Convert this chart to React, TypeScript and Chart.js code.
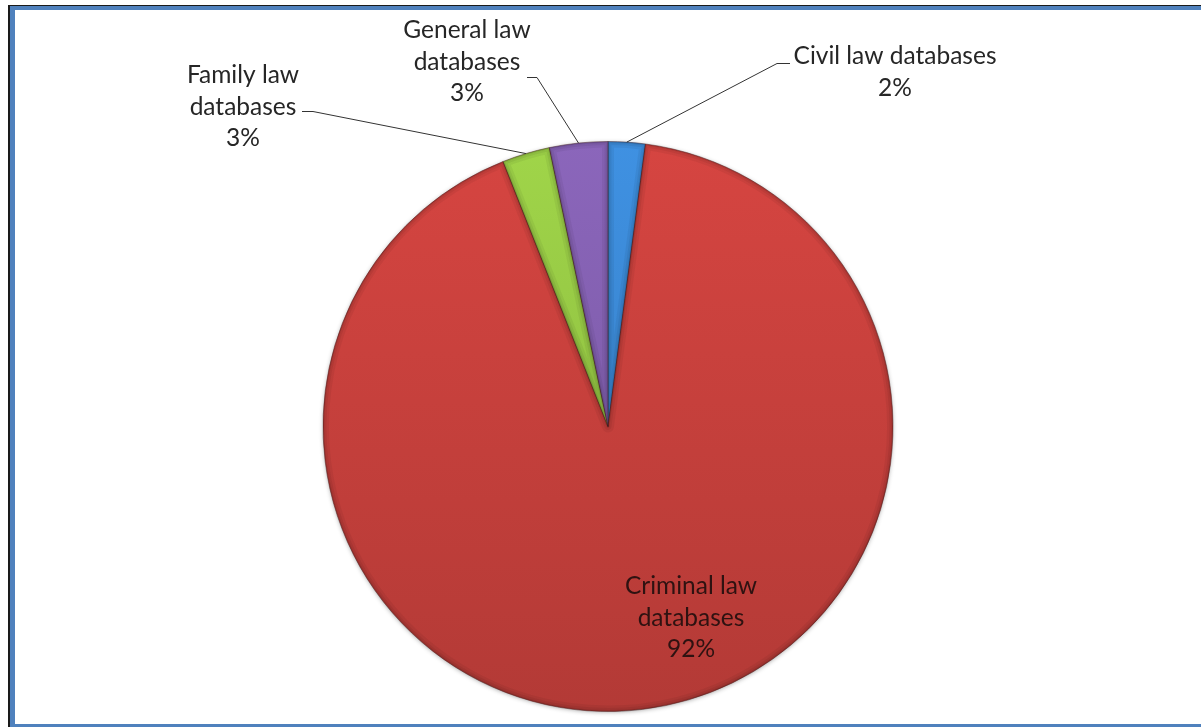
import React, { useEffect, useRef } from "react";
import { Chart, registerables } from "chart.js";

Chart.register(...registerables);

// Share of law databases by field (percent)
const categories = [
  "Civil law databases",
  "Criminal law databases",
  "Family law databases",
  "General law databases",
];
const shares = [2.1, 91.9, 2.7, 3.3];
const sliceColors = ["#3d8ddb", "#d0433f", "#9bcf47", "#8763b6"];

// Label text lines (the percentage is appended as the last line)
const labelLines = [
  ["Civil law databases"],
  ["Criminal law", "databases"],
  ["Family law", "databases"],
  ["General law", "databases"],
];

// Label layout, as offsets from the pie centre: text block centre x, first line y,
// and for outside labels the elbow and end of the leader line.
type LabelLayout = { dx: number; dy: number; elbow?: [number, number]; end?: [number, number] };
const labelLayout: LabelLayout[] = [
  { dx: 287, dy: -370, elbow: [169, -363], end: [182, -363] },
  { dx: 83, dy: 160 },
  { dx: -365, dy: -351, elbow: [-295, -315], end: [-306, -315] },
  { dx: -141, dy: -396, elbow: [-71, -349], end: [-81, -349] },
];

const FONT = "24.5px Lato, 'Open Sans', sans-serif";
const LINE_H = 31.5;

function shade(hex: string, f: number): string {
  const n = parseInt(hex.slice(1), 16);
  const r = Math.min(255, Math.round(((n >> 16) & 255) * f));
  const g = Math.min(255, Math.round(((n >> 8) & 255) * f));
  const b = Math.min(255, Math.round((n & 255) * f));
  return `rgb(${r},${g},${b})`;
}

const piePlugin = {
  id: "pieDecor",
  beforeDatasetsDraw(chart: any) {
    const arc = chart.getDatasetMeta(0).data[0];
    if (!arc) return;
    const { x, y, outerRadius } = arc;
    const ctx = chart.ctx;
    ctx.save();
    ctx.shadowColor = "rgba(0,0,0,0.45)";
    ctx.shadowBlur = 5;
    ctx.shadowOffsetY = 1;
    ctx.fillStyle = "#b83a37";
    ctx.beginPath();
    ctx.arc(x, y, outerRadius - 1, 0, Math.PI * 2);
    ctx.fill();
    ctx.restore();
  },
  afterDatasetsDraw(chart: any) {
    const ctx = chart.ctx;
    const arcs = chart.getDatasetMeta(0).data;
    // soft bevel on every slice edge
    arcs.forEach((a: any) => {
      const { x, y, outerRadius, startAngle, endAngle } = a;
      ctx.save();
      ctx.beginPath();
      ctx.moveTo(x, y);
      ctx.arc(x, y, outerRadius, startAngle, endAngle);
      ctx.closePath();
      ctx.clip();
      const passes: [number, string][] = [
        [12, "rgba(0,0,0,0.05)"],
        [7, "rgba(0,0,0,0.06)"],
        [3, "rgba(0,0,0,0.09)"],
      ];
      passes.forEach(([w, c]) => {
        ctx.lineWidth = w;
        ctx.strokeStyle = c;
        ctx.lineJoin = "round";
        ctx.stroke();
      });
      ctx.restore();
    });

    // labels and leader lines
    const total = shares.reduce((s, v) => s + v, 0);
    ctx.save();
    ctx.font = FONT;
    ctx.textAlign = "center";
    ctx.textBaseline = "middle";
    arcs.forEach((a: any, i: number) => {
      const { x, y, outerRadius, startAngle, endAngle } = a;
      const L = labelLayout[i];
      if (L.elbow && L.end) {
        const mid = (startAngle + endAngle) / 2;
        ctx.beginPath();
        ctx.moveTo(x + Math.cos(mid) * outerRadius, y + Math.sin(mid) * outerRadius);
        ctx.lineTo(x + L.elbow[0], y + L.elbow[1]);
        ctx.lineTo(x + L.end[0], y + L.end[1]);
        ctx.strokeStyle = "#333333";
        ctx.lineWidth = 1;
        ctx.stroke();
      }
      const lines = [...labelLines[i], `${Math.round((shares[i] / total) * 100)}%`];
      ctx.fillStyle = i === 1 ? "#2e1211" : "#262626";
      lines.forEach((t, k) => {
        ctx.fillText(t, x + L.dx, y + L.dy + k * LINE_H);
      });
    });
    ctx.restore();
  },
};

export default function App() {
  const ref = useRef<HTMLCanvasElement>(null);

  useEffect(() => {
    if (!ref.current) return;
    const chart = new Chart(ref.current, {
      type: "pie",
      data: {
        labels: categories,
        datasets: [
          {
            data: shares,
            backgroundColor: (c: any) => {
              const base = sliceColors[c.dataIndex];
              const area = c.chart.chartArea;
              if (!area) return base;
              const g = c.chart.ctx.createLinearGradient(0, area.top, 0, area.bottom);
              g.addColorStop(0, shade(base, 1.03));
              g.addColorStop(1, shade(base, 0.86));
              return g;
            },
            borderColor: "rgba(70,30,30,0.45)",
            borderWidth: 1,
          },
        ],
      },
      options: {
        responsive: false,
        animation: false,
        layout: { padding: { top: 141, bottom: 15, left: 15, right: 0 } },
        plugins: {
          legend: { display: false },
          tooltip: { enabled: false },
        },
      },
      plugins: [piePlugin],
    });
    return () => chart.destroy();
  }, []);

  return (
    <div
      style={{
        position: "fixed",
        left: 0,
        top: 0,
        width: 1201,
        height: 727,
        background: "#ffffff",
        overflow: "hidden",
      }}
    >
      <div style={{ position: "absolute", left: 8, top: 5, width: 1300, height: 2, background: "#1a1a1a" }} />
      <div style={{ position: "absolute", left: 8, top: 5, width: 2, height: 800, background: "#1a1a1a" }} />
      <div
        style={{
          position: "absolute",
          left: 10,
          top: 6,
          width: 1195,
          height: 722,
          boxSizing: "border-box",
          border: "4px solid #4f81bd",
          borderLeftWidth: 5,
          background: "#ffffff",
        }}
      />
      <canvas
        ref={ref}
        width={1201}
        height={727}
        style={{ position: "absolute", left: 0, top: 0, width: 1201, height: 727 }}
      />
    </div>
  );
}
